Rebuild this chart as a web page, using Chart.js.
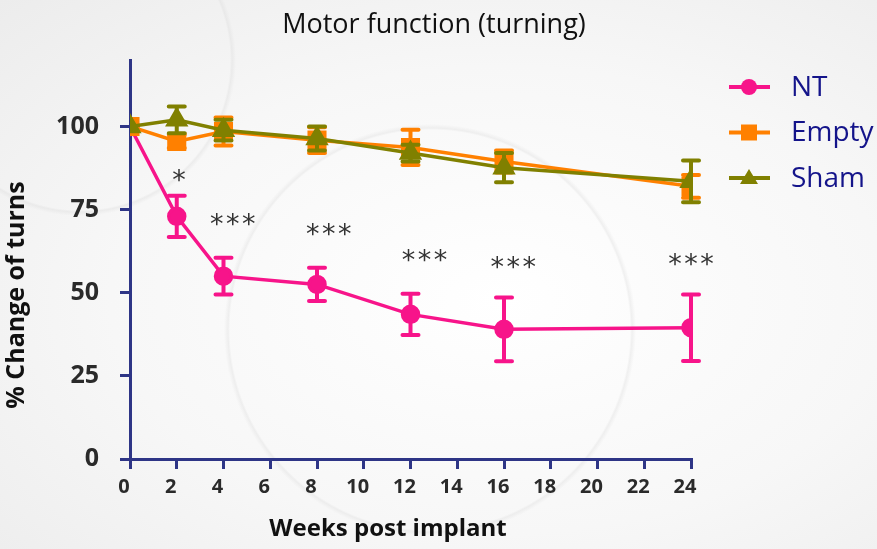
<!DOCTYPE html>
<html>
<head>
<meta charset="utf-8">
<script src="https://cdn.jsdelivr.net/npm/chart.js@4.4.1/dist/chart.umd.min.js"></script>
<style>
  html, body { margin: 0; padding: 0; }
  body {
    width: 877px; height: 549px; overflow: hidden;
    background:
      radial-gradient(circle at 430px 330px, rgba(255,255,255,0) 200px, rgba(225,225,225,0.45) 202px, rgba(255,255,255,0) 206px),
      radial-gradient(circle at 80px 60px, rgba(255,255,255,0) 150px, rgba(220,220,220,0.4) 152px, rgba(255,255,255,0) 156px),
      radial-gradient(ellipse at 500px 300px, #ffffff 0%, #f7f7f7 55%, #ececec 100%);
  }
</style>
</head>
<body>
<canvas id="chart" width="877" height="549"></canvas>
<script>
// Data ---------------------
const weeks = [0, 2, 4, 8, 12, 16, 24];
const ntValues = [100, 73, 55, 52.5, 43.5, 39, 39.5];
const ntErrors = [0, 6.2, 5.5, 5, 6.2, 9.6, 10];
const emptyValues = [100, 95.5, 98.5, 95.9, 93.7, 89.5, 82];
const emptyErrors = [0, 2, 4.2, 3.9, 5.3, 3.3, 3.4];
const shamValues = [100, 102, 98.9, 96.4, 92, 87.6, 83.5];
const shamErrors = [0, 4, 3.1, 3.6, 2.5, 4.4, 6.3];

const xTicks = [0, 2, 4, 6, 8, 10, 12, 14, 16, 18, 20, 22, 24];
const yTicks = [0, 25, 50, 75, 100];

// significance marks above NT
const starWeeks = [2.1, 4.4, 8.5, 12.6, 16.4, 24];
const starLevels = [85, 72, 69, 61, 59, 60];
const starCounts = [1, 3, 3, 3, 3, 3];

const chartTitle = 'Motor function (turning)';
const xTitle = 'Weeks post implant';
const yTitle = '% Change of turns';

const navy = '#2e3586';
const pink = '#f7148a';
const orange = '#ff8000';
const olive = '#808000';

function toPoints(vals) {
    return weeks.map((w, i) => ({ x: w, y: vals[i] }));
}

// Plugins ------------------
const errorBars = {
    id: 'errorBars',
    afterDatasetDraw(chart, args) {
        const ds = chart.data.datasets[args.index];
        if (!ds.errors) return;
        const ctx = chart.ctx;
        const yScale = chart.scales.y;
        ctx.save();
        ctx.strokeStyle = ds.borderColor;
        ctx.lineWidth = 4;
        ctx.lineCap = 'round';
        args.meta.data.forEach(function(pt, i) {
            const e = ds.errors[i];
            if (!e) return;
            const v = ds.data[i].y;
            const top = yScale.getPixelForValue(v + e);
            const bot = yScale.getPixelForValue(v - e);
            ctx.beginPath();
            ctx.moveTo(pt.x, top); ctx.lineTo(pt.x, bot);
            ctx.moveTo(pt.x - 8, top); ctx.lineTo(pt.x + 8, top);
            ctx.moveTo(pt.x - 8, bot); ctx.lineTo(pt.x + 8, bot);
            ctx.stroke();
        });
        ctx.restore();
    }
};

const stars = {
    id: 'stars',
    afterDatasetsDraw(chart) {
        const ctx = chart.ctx;
        ctx.save();
        ctx.fillStyle = '#333333';
        ctx.font = '27px "DejaVu Sans"';
        ctx.textAlign = 'center';
        ctx.textBaseline = 'middle';
        starWeeks.forEach(function(w, i) {
            const px = chart.scales.x.getPixelForValue(w);
            const py = chart.scales.y.getPixelForValue(starLevels[i]) + 6;
            const n = starCounts[i];
            for (let k = 0; k < n; k++) {
                ctx.fillText('*', px + (k - (n - 1) / 2) * 16, py);
            }
        });
        ctx.restore();
    }
};

// titles and legend drawn by hand so they sit where the original has them
const decorations = {
    id: 'decorations',
    afterDraw(chart) {
        const ctx = chart.ctx;
        ctx.save();
        ctx.textAlign = 'center';
        ctx.textBaseline = 'middle';
        ctx.fillStyle = '#111111';
        ctx.font = '27px "Open Sans"';
        ctx.fillText(chartTitle, 434, 25);

        ctx.font = 'bold 24px "Open Sans"';
        ctx.fillText(xTitle, 388, 529);

        ctx.save();
        ctx.translate(17, 295);
        ctx.rotate(-Math.PI / 2);
        ctx.font = 'bold 25px "Open Sans"';
        ctx.fillText(yTitle, 0, 0);
        ctx.restore();

        const items = chart.data.datasets.slice().sort((a, b) => b.order - a.order);
        items.forEach(function(ds, i) {
            const cy = 87 + i * 45.5;
            ctx.strokeStyle = ds.borderColor;
            ctx.lineWidth = 4;
            ctx.beginPath();
            ctx.moveTo(729, cy); ctx.lineTo(770, cy);
            ctx.stroke();
            ctx.fillStyle = ds.borderColor;
            ctx.beginPath();
            if (ds.pointStyle === 'circle') {
                ctx.arc(749, cy, 8, 0, Math.PI * 2);
            } else if (ds.pointStyle === 'rect') {
                ctx.rect(741, cy - 8, 16, 16);
            } else {
                ctx.moveTo(749, cy - 9); ctx.lineTo(758, cy + 6); ctx.lineTo(740, cy + 6);
                ctx.closePath();
            }
            ctx.fill();
            ctx.fillStyle = '#14148a';
            ctx.font = '28px "Open Sans"';
            ctx.textAlign = 'left';
            ctx.fillText(ds.label, 791, cy + 1);
        });
        ctx.restore();
    }
};

// Chart --------------------
const ctx = document.getElementById('chart').getContext('2d');
new Chart(ctx, {
    type: 'line',
    data: {
        datasets: [{
            label: 'NT',
            data: toPoints(ntValues),
            errors: ntErrors,
            borderColor: pink,
            backgroundColor: pink,
            pointStyle: 'circle',
            pointRadius: 8,
            borderWidth: 3.5,
            order: 2
        }, {
            label: 'Empty',
            data: toPoints(emptyValues),
            errors: emptyErrors,
            borderColor: orange,
            backgroundColor: orange,
            pointStyle: 'rect',
            pointRadius: 11,
            borderWidth: 3.5,
            order: 1
        }, {
            label: 'Sham',
            data: toPoints(shamValues),
            errors: shamErrors,
            borderColor: olive,
            backgroundColor: olive,
            pointStyle: 'triangle',
            pointRadius: 10,
            borderWidth: 3.5,
            order: 0
        }]
    },
    options: {
        responsive: false,
        animation: false,
        layout: { padding: { left: 0, right: 186, top: 60, bottom: 0 } },
        elements: { point: { borderWidth: 0 }, line: { tension: 0 } },
        plugins: {
            legend: { display: false },
            tooltip: { enabled: false },
            title: { display: false }
        },
        scales: {
            x: {
                type: 'linear',
                min: 0,
                max: 24,
                afterBuildTicks: function(scale) {
                    scale.ticks = xTicks.map(v => ({ value: v }));
                },
                afterFit: function(scale) { scale.height = 90; },
                grid: { drawOnChartArea: false, drawTicks: true, tickLength: 10, color: navy, lineWidth: 3 },
                border: { display: true, color: navy, width: 3 },
                ticks: {
                    color: '#2a2a2a',
                    font: { family: '"Open Sans"', size: 20, weight: 'bold' },
                    padding: 6,
                    labelOffset: -6,
                    maxRotation: 0,
                    autoSkip: false
                }
            },
            y: {
                min: 0,
                max: 120,
                afterBuildTicks: function(scale) {
                    scale.ticks = yTicks.map(v => ({ value: v }));
                },
                afterFit: function(scale) { scale.width = 130; },
                grid: { drawOnChartArea: false, drawTicks: true, tickLength: 10, color: navy, lineWidth: 3 },
                border: { display: true, color: navy, width: 3 },
                ticks: {
                    color: '#2a2a2a',
                    font: { family: '"Open Sans"', size: 25, weight: 'bold' },
                    padding: 21
                }
            }
        }
    },
    plugins: [errorBars, stars, decorations]
});
</script>
</body>
</html>
